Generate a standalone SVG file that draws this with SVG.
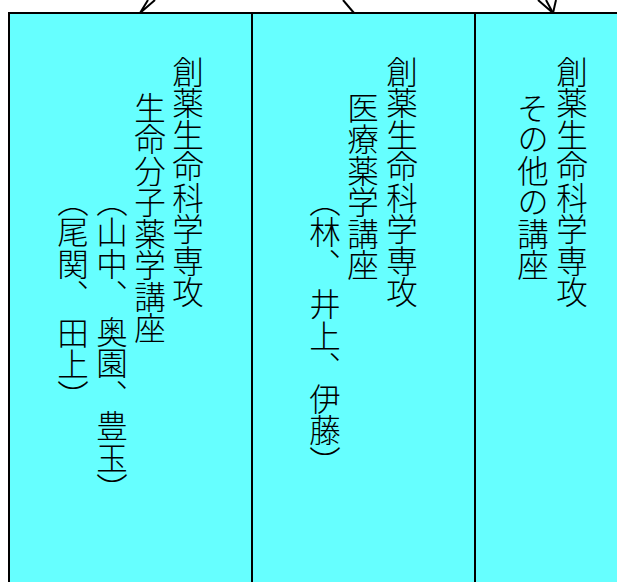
<svg xmlns="http://www.w3.org/2000/svg" width="617" height="582" viewBox="0 0 617 582">
<style>
.box{fill:#66ffff;stroke:#000;stroke-width:2}
.conn{fill:none;stroke:#000;stroke-width:2}
.vt{font-family:"Noto Sans CJK JP","Noto Sans CJK SC",sans-serif;font-size:31.5px;font-weight:300;fill:#000;writing-mode:vertical-rl}
</style>
<rect width="617" height="582" fill="#fff"/>
<g id="node-drug-discovery-molecular">
<rect class="box" x="9" y="13" width="243" height="600"/>
<text class="vt" x="188" y="56">創薬生命科学専攻</text>
<text class="vt" x="150" y="92">生命分子薬学講座</text>
<text class="vt" x="112" y="185">（山中、<tspan y="316">奥園、豊玉）</tspan></text>
<text class="vt" x="73" y="185">（尾関、<tspan y="317">田上）</tspan></text>
</g>
<g id="node-drug-discovery-medical">
<rect class="box" x="252" y="13" width="223" height="600"/>
<text class="vt" x="402" y="56">創薬生命科学専攻</text>
<text class="vt" x="363" y="92">医療薬学講座</text>
<text class="vt" x="325" y="185">（林、<tspan y="288">井上、伊藤）</tspan></text>
</g>
<g id="node-drug-discovery-other">
<rect class="box" x="475" y="13" width="160" height="600"/>
<text class="vt" x="572" y="56">創薬生命科学専攻</text>
<text class="vt" x="533" y="92">その他の講座</text>
</g>
<g id="connectors">
<polyline class="conn" points="148,0 140,13 155,0"/>
<line class="conn" x1="343" y1="0" x2="354" y2="13"/>
<polyline class="conn" points="538,0 553,13 546,0"/>
<line class="conn" x1="556" y1="0" x2="553" y2="13"/>
</g>
</svg>
